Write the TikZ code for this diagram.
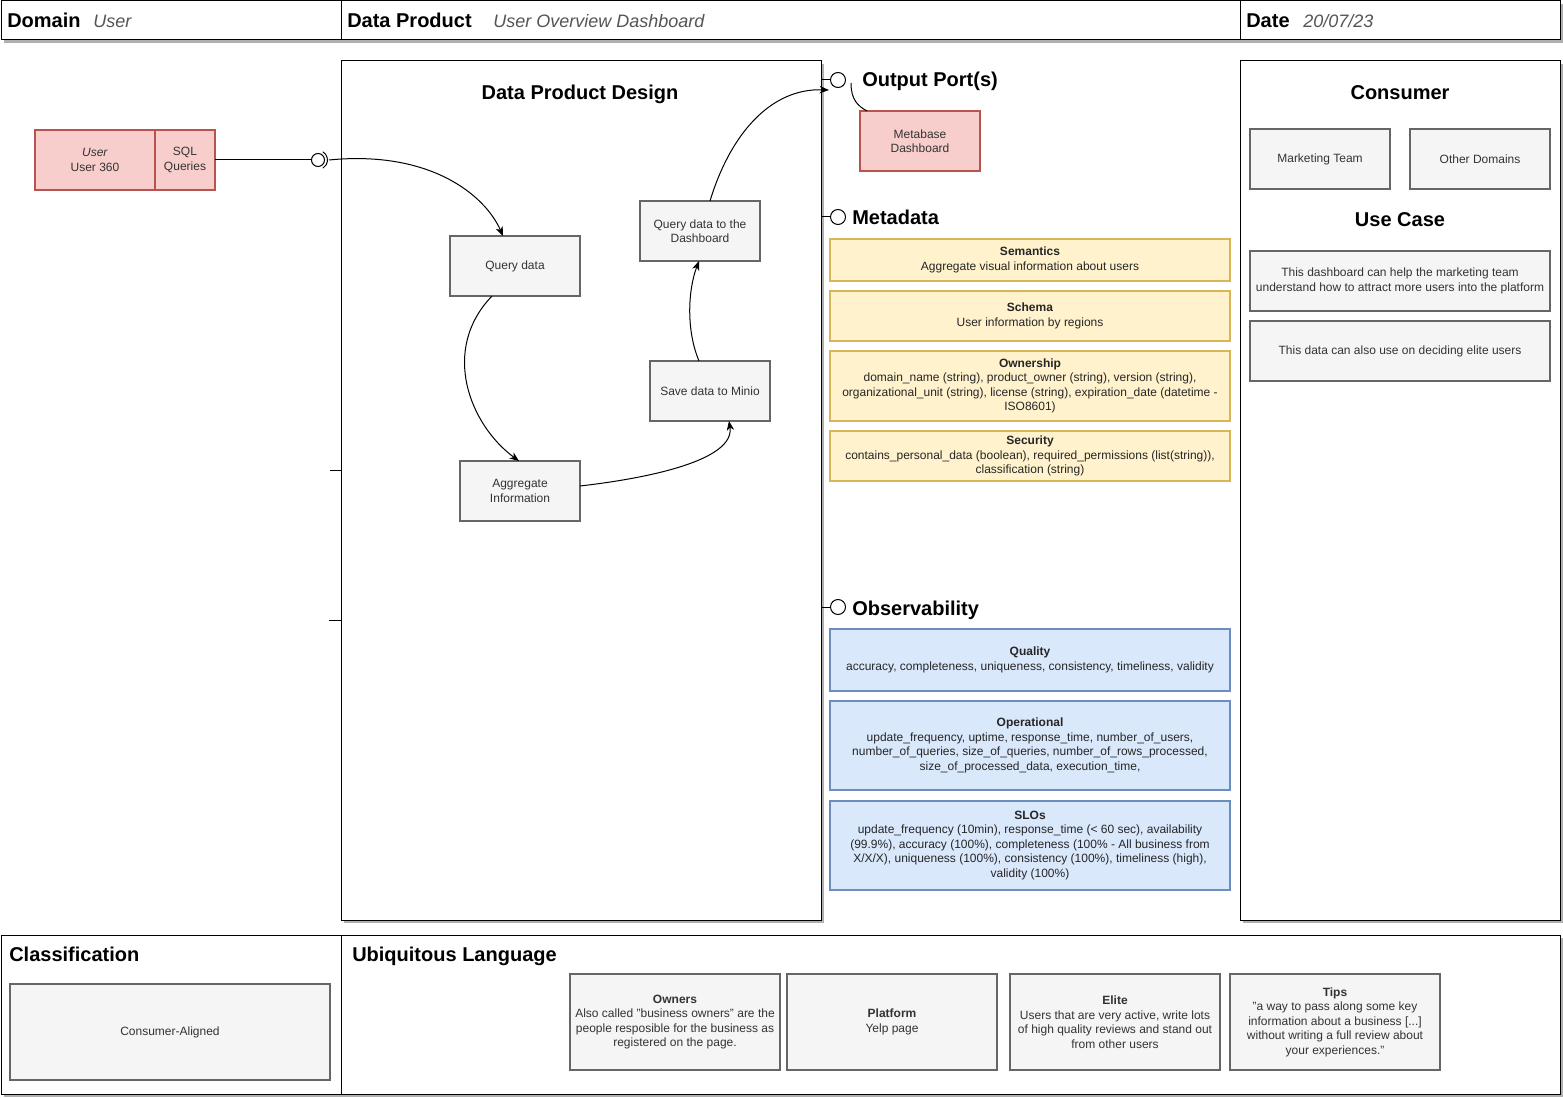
\documentclass[tikz,border=0pt]{standalone}
\usepackage{fontspec}
\setmainfont{Liberation Sans}
\usetikzlibrary{arrows.meta,calc}

\definecolor{boxfill}{HTML}{F5F5F5}
\definecolor{boxline}{HTML}{666666}
\definecolor{boxtext}{HTML}{333333}
\definecolor{pinkfill}{HTML}{F8CECC}
\definecolor{pinkline}{HTML}{B85450}
\definecolor{yelfill}{HTML}{FFF2CC}
\definecolor{yelline}{HTML}{D6B656}
\definecolor{bluefill}{HTML}{DAE8FC}
\definecolor{blueline}{HTML}{6C8EBF}
\definecolor{panelshadow}{HTML}{B0B0B0}
\definecolor{subtext}{HTML}{555555}

\tikzset{
  sz/.style 2 args={minimum width=#1*0.75pt, minimum height=#2*0.75pt},
  base/.style={inner sep=2pt, outer sep=0pt, align=center,
               font=\fontsize{9}{10.9}\selectfont},
  gbox/.style={base, draw=boxline, fill=boxfill, line width=1.5pt, text=boxtext},
  pbox/.style={base, draw=pinkline, fill=pinkfill, line width=1.5pt, text=boxtext},
  ybox/.style={base, draw=yelline, fill=yelfill, line width=1.5pt, text=black!85},
  bbox/.style={base, draw=blueline, fill=bluefill, line width=1.5pt, text=black!85},
  frame/.style={draw=black, line width=0.75pt, fill=white},
  title/.style={font=\fontsize{15}{18}\selectfont\bfseries, inner sep=0pt},
  subtitle/.style={font=\fontsize{13.5}{16}\selectfont\itshape, text=subtext, inner sep=0pt},
  flow/.style={line width=0.75pt, -{Stealth[length=7pt,width=5.5pt,inset=2pt]}},
  wire/.style={line width=0.75pt},
  port/.style={circle, draw, fill=white, line width=0.75pt, inner sep=0pt},
}

\begin{document}
\begin{tikzpicture}[x=0.75pt,y=-0.75pt]
\useasboundingbox (0,0) rectangle (1563,1098);

% panel frames with their drop shadows
\foreach \xa/\ya/\xb/\yb in {1/1/341/40, 341/1/1240/40, 1240/1/1560/40,
                         341/61/821/920, 1240/61/1560/920,
                         1/935/341/1094, 341/935/1560/1094}
  \fill[panelshadow] (\xa+3,\ya+3) rectangle (\xb+3,\yb+3);
\foreach \xa/\ya/\xb/\yb in {1/1/341/40, 341/1/1240/40, 1240/1/1560/40,
                         341/61/821/920, 1240/61/1560/920,
                         1/935/341/1094, 341/935/1560/1094}
  \draw[frame] (\xa,\ya) rectangle (\xb,\yb);

% header
\node[title, anchor=base west] (domlbl) at (7,28) {Domain};
\node[subtitle, anchor=base west] (domval) at (93,28) {User};
\node[title, anchor=base west] (dplbl) at (347,28) {Data Product};
\node[subtitle, anchor=base west] (dpval) at (493,28) {User Overview Dashboard};
\node[title, anchor=base west] (datelbl) at (1246,28) {Date};
\node[subtitle, anchor=base west] (dateval) at (1303,28) {20/07/23};

% section titles
\node[title, anchor=base] (design) at (580,100) {Data Product Design};
\node[title, anchor=base] (consumer) at (1400,100) {Consumer};
\node[title, anchor=base] (usecase) at (1400,227) {Use Case};
\node[title, anchor=base west] (outlbl) at (862,87) {Output Port(s)};
\node[title, anchor=base west] (metalbl) at (852,225) {Metadata};
\node[title, anchor=base west] (obslbl) at (852,615) {Observability};
\node[title, anchor=base west] (clslbl) at (9,961) {Classification};
\node[title, anchor=base west] (ullbl) at (352,961) {Ubiquitous Language};

% input port
\node[pbox, sz={120}{60}] (user) at (95,160) {\textit{User}\\User 360};
\node[pbox, sz={60}{60}] (sql) at (185,160) {SQL\\Queries};
\node[port, minimum size=13*0.75pt] (inport) at (318,160) {};
\draw[wire] (318,160) ++(-60:9.5) arc[start angle=-60, end angle=60, radius=9.5];
\coordinate (inlink) at (329,160);
\draw[wire] (sql.east) -- (inport.west);

% processing steps
\node[gbox, sz={130}{60}] (qd) at (515,266) {Query data};
\node[gbox, sz={120}{60}] (agg) at (520,491) {Aggregate\\Information};
\node[gbox, sz={120}{60}] (save) at (710,391) {Save data to Minio};
\node[gbox, sz={120}{60}] (qdd) at (700,231) {Query data to the\\Dashboard};

% output ports
\node[port, minimum size=15*0.75pt] (pout) at (838,80) {};
\node[port, minimum size=15*0.75pt] (pmeta) at (838,217) {};
\node[port, minimum size=15*0.75pt] (pobs) at (838,607) {};
\draw[wire] (821,80) -- (pout.west);
\draw[wire] (821,217) -- (pmeta.west);
\draw[wire] (821,607) -- (pobs.west);
\coordinate (outin) at (829,90);
\coordinate (outtail) at (851,83);

\node[pbox, sz={120}{60}] (metabase) at (920,141) {Metabase\\Dashboard};

% flow connectors
\draw[flow] (inlink) .. controls (430,150) and (485,195) .. ($(qd.north)+(-12,0)$);
\draw[flow] ($(qd.south)+(-23,0)$) .. controls (440,350) and (470,425) .. ($(agg.north)+(-1,0)$);
\draw[flow] ($(agg.east)+(0,-5)$) .. controls (650,478) and (735,460) .. ($(save.south)+(19,0)$);
\draw[flow] ($(save.north)+(-11,0)$) .. controls (686,330) and (688,290) .. ($(qdd.south)+(-1,0)$);
\draw[flow] ($(qdd.north)+(10,0)$) .. controls (730,135) and (770,88) .. (outin);
\draw[wire] (outtail) .. controls (851,100) and (858,106) .. ($(metabase.north west)+(7,0)$);

% metadata
\node[ybox, sz={400}{42}] (sem) at (1030,260) {\textbf{Semantics}\\Aggregate visual information about users};
\node[ybox, sz={400}{50}] (sch) at (1030,316) {\textbf{Schema}\\User information by regions};
\node[ybox, sz={400}{70}] (own) at (1030,386) {\textbf{Ownership}\\domain\_name (string), product\_owner (string), version (string),\\organizational\_unit (string), license (string), expiration\_date (datetime -\\ISO8601)};
\node[ybox, sz={400}{50}] (sec) at (1030,456) {\textbf{Security}\\contains\_personal\_data (boolean), required\_permissions (list(string)),\\classification (string)};

% observability
\node[bbox, sz={400}{62}] (qual) at (1030,660) {\textbf{Quality}\\accuracy, completeness, uniqueness, consistency, timeliness, validity};
\node[bbox, sz={400}{89}] (oper) at (1030,745.5) {\textbf{Operational}\\update\_frequency, uptime, response\_time, number\_of\_users,\\number\_of\_queries, size\_of\_queries, number\_of\_rows\_processed,\\size\_of\_processed\_data, execution\_time,};
\node[bbox, sz={400}{89}] (slo) at (1030,845.5) {\textbf{SLOs}\\update\_frequency (10min), response\_time (< 60 sec), availability\\(99.9\%), accuracy (100\%), completeness (100\% - All business from\\X/X/X), uniqueness (100\%), consistency (100\%), timeliness (high),\\validity (100\%)};

% consumers and use cases
\node[gbox, sz={140}{60}] (mkt) at (1320,159) {Marketing Team};
\node[gbox, sz={140}{60}] (oth) at (1480,159) {Other Domains};
\node[gbox, sz={300}{60}] (uc1) at (1400,281) {This dashboard can help the marketing team\\understand how to attract more users into the platform};
\node[gbox, sz={300}{60}] (uc2) at (1400,351) {This data can also use on deciding elite users};

% margin ticks on the design panel
\draw[wire] (330,470) -- (341,470);
\draw[wire] (329,620) -- (341,620);

% classification and glossary
\node[gbox, sz={320}{96}] (cls) at (170,1032) {Consumer-Aligned};
\node[gbox, sz={210}{96}] (owners) at (675,1022) {\textbf{Owners}\\Also called "business owners" are the\\people resposible for the business as\\registered on the page.};
\node[gbox, sz={210}{96}] (platform) at (892,1022) {\textbf{Platform}\\Yelp page};
\node[gbox, sz={210}{96}] (elite) at (1115,1022) {\textbf{Elite}\\Users that are very active, write lots\\of high quality reviews and stand out\\from other users};
\node[gbox, sz={210}{96}] (tips) at (1335,1022) {\textbf{Tips}\\"a way to pass along some key\\information about a business [...]\\without writing a full review about\\your experiences."};

\end{tikzpicture}
\end{document}
